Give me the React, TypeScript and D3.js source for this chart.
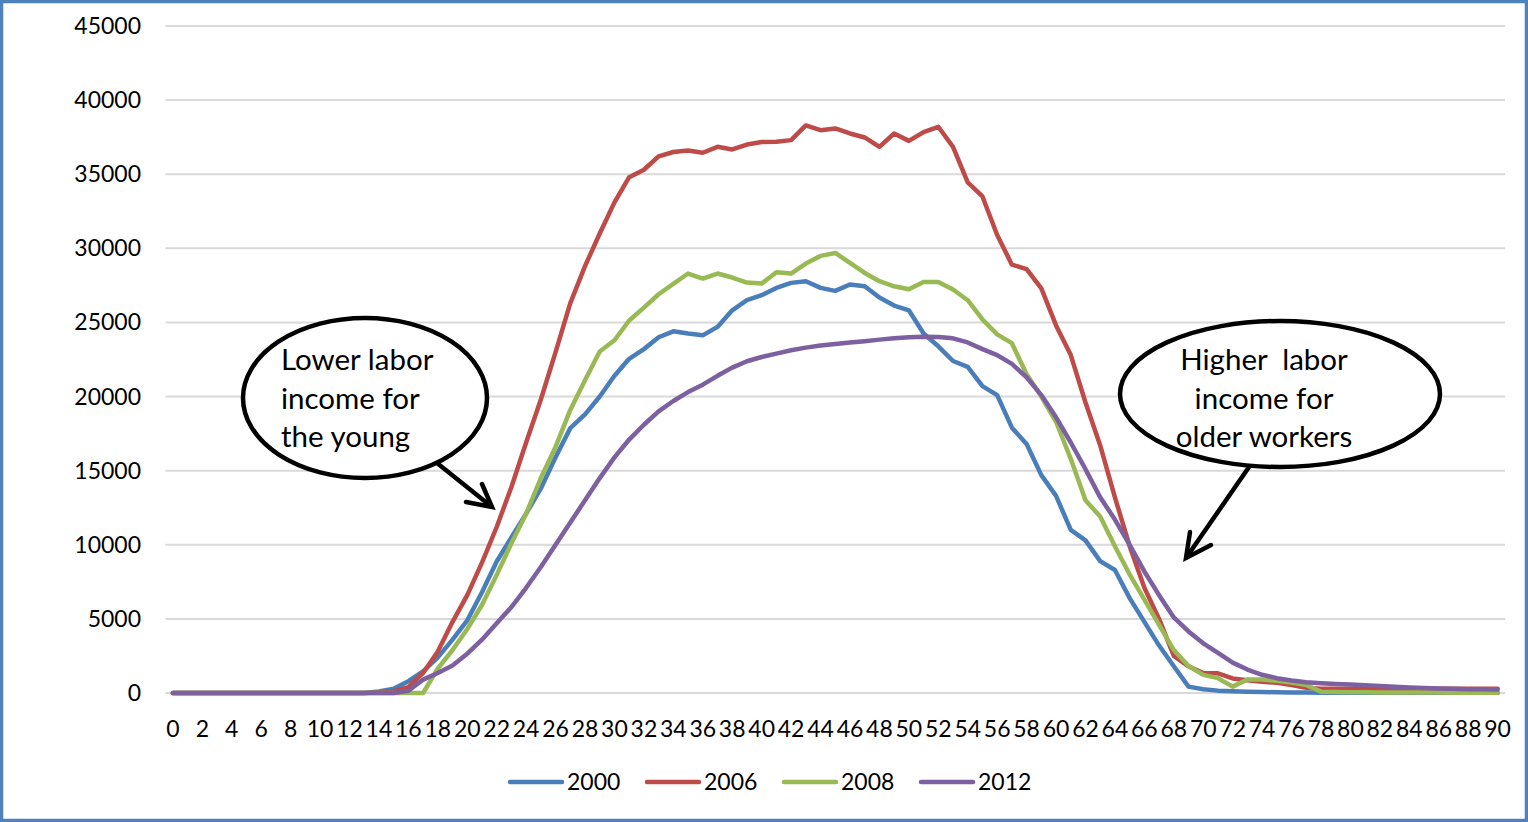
import { useEffect, useRef } from 'react';
import * as d3 from 'd3';

const ages = d3.range(0, 91);
const yTicks = [0, 5000, 10000, 15000, 20000, 25000, 30000, 35000, 40000, 45000];
const xTickAges = ages.filter(a => a % 2 === 0);

const zeros14 = [0, 0, 0, 0, 0, 0, 0, 0, 0, 0, 0, 0, 0, 0];

const income2000 = zeros14.concat([
  110, 290, 800, 1460, 2400, 3600, 4900, 6800, 8870, 10500,
  12100, 13800, 15900, 17870, 18800, 20000, 21400, 22550, 23200, 24000,
  24400, 24250, 24130, 24700, 25820, 26500, 26840, 27330, 27670, 27780,
  27330, 27130, 27560, 27440, 26680, 26140, 25820, 24250, 23390, 22400,
  22000, 20700, 20100, 17900, 16800, 14700, 13300, 11000, 10300, 8900,
  8300, 6400, 4800, 3200, 1800, 430, 250, 160, 120, 90,
  70, 50, 40, 30, 20, 20, 20, 20, 20, 20,
  20, 20, 20, 20, 20, 20, 20,
]);

const income2006 = zeros14.concat([
  40, 110, 400, 1350, 2800, 4800, 6600, 8800, 11200, 13900,
  16900, 19800, 23000, 26300, 28800, 31000, 33100, 34800, 35300, 36200,
  36500, 36600, 36450, 36850, 36670, 37000, 37170, 37190, 37300, 38290,
  37970, 38090, 37750, 37480, 36850, 37750, 37250, 37840, 38200, 36850,
  34450, 33500, 30900, 28900, 28600, 27300, 24800, 22800, 19600, 16700,
  13200, 9900, 7100, 5000, 2500, 1800, 1340, 1330, 980, 860,
  760, 690, 530, 360, 290, 280, 280, 280, 280, 280,
  280, 280, 280, 280, 280, 280, 280,
]);

const income2008 = zeros14.concat([
  0, 0, 0, 0, 1650, 2900, 4320, 5940, 7970, 10100,
  12100, 14500, 16600, 19100, 21100, 23040, 23800, 25130, 26000, 26900,
  27600, 28300, 27960, 28300, 28030, 27690, 27620, 28390, 28300, 28970,
  29490, 29690, 29020, 28340, 27780, 27440, 27240, 27730, 27730, 27220,
  26500, 25200, 24200, 23600, 21500, 20000, 18300, 15800, 13000, 11900,
  9900, 8000, 6300, 4600, 2900, 1820, 1220, 1000, 430, 910,
  910, 820, 700, 540, 90, 60, 50, 45, 40, 40,
  35, 30, 30, 25, 25, 20, 20,
]);

const income2012 = zeros14.concat([
  0, 0, 150, 900, 1350, 1850, 2650, 3600, 4700, 5800,
  7100, 8500, 10000, 11500, 13000, 14500, 15900, 17100, 18100, 19000,
  19700, 20300, 20800, 21400, 21950, 22380, 22670, 22900, 23120, 23300,
  23440, 23550, 23640, 23730, 23840, 23930, 24000, 24040, 24020, 23930,
  23650, 23200, 22800, 22200, 21300, 20100, 18600, 16900, 15100, 13200,
  11700, 10000, 8200, 6600, 5100, 4150, 3350, 2700, 2050, 1580,
  1230, 1000, 840, 730, 660, 610, 570, 520, 470, 420,
  370, 330, 300, 280, 260, 250, 240,
]);

const seriesNames = ['2000', '2006', '2008', '2012'];
const seriesValues = [income2000, income2006, income2008, income2012];
const seriesColors = ['#4a7ebb', '#be4b48', '#98b954', '#7d60a0'];

const FONT = 'Lato, "Open Sans", sans-serif';

export default function App() {
  const ref = useRef(null);

  useEffect(() => {
    const svg = d3.select(ref.current);
    svg.selectAll('*').remove();

    const x = d3
      .scalePoint()
      .domain(ages.map(String))
      .range([165.5, 1505])
      .padding(0.5);
    const y = d3.scaleLinear().domain([0, 45000]).range([693, 26]);

    // frame
    svg
      .append('rect')
      .attr('x', 1.5)
      .attr('y', 1.5)
      .attr('width', 1525)
      .attr('height', 819)
      .attr('fill', 'white')
      .attr('stroke', '#4f81bd')
      .attr('stroke-width', 3.5);

    // gridlines
    svg
      .append('g')
      .selectAll('line')
      .data(yTicks)
      .enter()
      .append('line')
      .attr('x1', 165.5)
      .attr('x2', 1505)
      .attr('y1', d => y(d))
      .attr('y2', d => y(d))
      .attr('stroke', '#d9d9d9')
      .attr('stroke-width', 2);

    // y labels
    svg
      .append('g')
      .selectAll('text')
      .data(yTicks)
      .enter()
      .append('text')
      .attr('x', 141)
      .attr('y', d => y(d))
      .attr('dy', '0.35em')
      .attr('text-anchor', 'end')
      .style('font-family', FONT)
      .style('font-size', '23px')
      .style('fill', '#000')
      .text(d => String(d));

    // x labels
    svg
      .append('g')
      .selectAll('text')
      .data(xTickAges)
      .enter()
      .append('text')
      .attr('x', d => x(String(d)))
      .attr('y', 729)
      .attr('dy', '0.35em')
      .attr('text-anchor', 'middle')
      .style('font-family', FONT)
      .style('font-size', '23px')
      .style('fill', '#000')
      .text(d => String(d));

    const line = d3
      .line()
      .x((d, i) => x(String(ages[i])))
      .y(d => y(d));

    seriesValues.forEach((vals, k) => {
      svg
        .append('path')
        .attr('d', line(vals))
        .attr('fill', 'none')
        .attr('stroke', seriesColors[k])
        .attr('stroke-width', 4.5)
        .attr('stroke-linejoin', 'round')
        .attr('stroke-linecap', 'round');
    });

    // legend
    const legendX = [510, 647, 784, 921];
    const legend = svg
      .append('g')
      .selectAll('g')
      .data(seriesNames)
      .enter()
      .append('g')
      .attr('transform', (d, i) => `translate(${legendX[i]},782)`);
    legend
      .append('line')
      .attr('x1', 0)
      .attr('x2', 52)
      .attr('stroke', (d, i) => seriesColors[i])
      .attr('stroke-width', 4.5)
      .attr('stroke-linecap', 'round');
    legend
      .append('text')
      .attr('x', 57)
      .attr('dy', '0.35em')
      .style('font-family', FONT)
      .style('font-size', '23px')
      .style('fill', '#000')
      .text(d => d);

    // annotations
    const notes = [
      {
        cx: 365, cy: 398, rx: 122, ry: 80,
        lines: ['Lower labor', 'income for', 'the young'],
        tx: 281, anchor: 'start',
        from: [437, 463], to: [492, 507],
        head: [[466, 502], [482, 484]],
      },
      {
        cx: 1280, cy: 394, rx: 160, ry: 73,
        lines: ['Higher  labor', 'income for', 'older workers'],
        tx: 1264, anchor: 'middle',
        from: [1249, 467], to: [1186, 558],
        head: [[1190, 532], [1211, 545]],
      },
    ];
    const lineYs = [360, 399, 437];
    notes.forEach(n => {
      const g = svg.append('g');
      g.append('ellipse')
        .attr('cx', n.cx)
        .attr('cy', n.cy)
        .attr('rx', n.rx)
        .attr('ry', n.ry)
        .attr('fill', 'white')
        .attr('stroke', '#000')
        .attr('stroke-width', 4.5);
      n.lines.forEach((t, i) => {
        g.append('text')
          .attr('x', n.tx)
          .attr('y', lineYs[i])
          .attr('dy', '0.35em')
          .attr('text-anchor', n.anchor)
          .style('font-family', FONT)
          .style('font-size', '29.5px')
          .style('white-space', 'pre')
          .style('fill', '#000')
          .text(t);
      });
      g.append('line')
        .attr('x1', n.from[0])
        .attr('y1', n.from[1])
        .attr('x2', n.to[0])
        .attr('y2', n.to[1])
        .attr('stroke', '#000')
        .attr('stroke-width', 4.5);
      g.append('path')
        .attr('d', `M${n.head[0][0]},${n.head[0][1]}L${n.to[0]},${n.to[1]}L${n.head[1][0]},${n.head[1][1]}`)
        .attr('fill', 'none')
        .attr('stroke', '#000')
        .attr('stroke-width', 4.5)
        .attr('stroke-linecap', 'round')
        .attr('stroke-linejoin', 'miter');
    });
  }, []);

  return (
    <svg
      ref={ref}
      width={1528}
      height={822}
      style={{ position: 'absolute', left: 0, top: 0, display: 'block' }}
    />
  );
}
